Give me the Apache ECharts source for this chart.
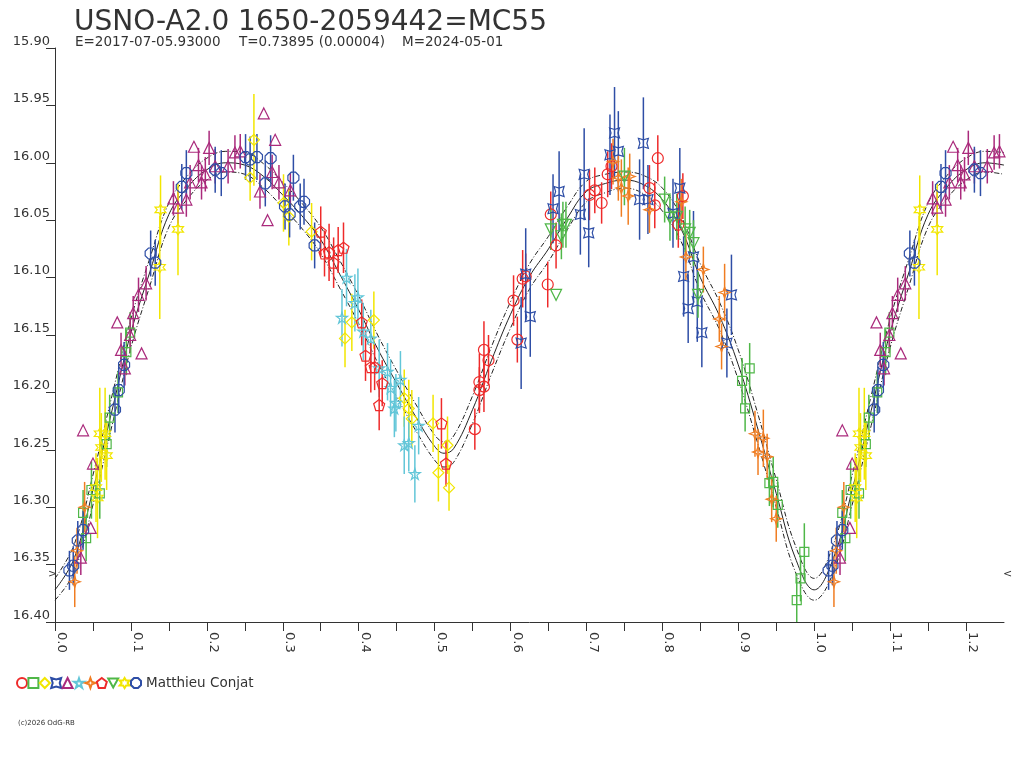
<!DOCTYPE html>
<html>
<head>
<meta charset="utf-8">
<title>USNO-A2.0 1650-2059442=MC55</title>
<script src="https://cdn.jsdelivr.net/npm/echarts@6/dist/echarts.min.js"></script>
<style>
html,body{margin:0;padding:0;background:#fff;}
#main{width:1024px;height:768px;}
</style>
</head>
<body>
<div id="main"></div>
<script>
// observations : [phase, magnitude, error]  (error 0 = no bar)
var redCircle = [
	[0.553,16.232,0.018],[0.559,16.191,0.025],[0.565,16.195,0.022],[0.559,16.198,0.020],[0.565,16.163,0.025],
	[0.571,16.172,0.022],[0.609,16.154,0.020],[0.604,16.120,0.022],[0.616,16.101,0.025],[0.620,16.099,0.020],
	[0.649,16.106,0.020],[0.660,16.072,0.020],[0.653,16.045,0.020],[0.704,16.028,0.022],[0.711,16.024,0.020],
	[0.720,16.035,0.018],[0.728,16.010,0.020],[0.733,16.003,0.020],[0.783,16.022,0.020],[0.790,16.037,0.020],
	[0.794,15.996,0.020],[0.821,16.054,0.020],[0.827,16.029,0.020]
];
var greenSquare = [
	[0.037,16.305,0.020],[0.041,16.327,0.020],[0.048,16.285,0.025],[0.059,16.288,0.022],[0.068,16.245,0.020],
	[0.072,16.222,0.020],[0.083,16.200,0.018],[0.094,16.165,0.020],[0.099,16.148,0.018],[0.905,16.190,0.020],
	[0.909,16.214,0.020],[0.915,16.179,0.022],[0.941,16.279,0.020],[0.946,16.278,0.022],[0.952,16.298,0.020],
	[0.977,16.381,0.020],[0.982,16.362,0.020],[0.987,16.339,0.025]
];
var yellowDiamond = [
	[0.257,16.013,0.020],[0.262,15.980,0.040],[0.301,16.035,0.025],[0.308,16.047,0.025],[0.338,16.060,0.025],
	[0.382,16.153,0.025],[0.391,16.139,0.025],[0.420,16.137,0.025],[0.460,16.205,0.025],[0.466,16.214,0.025],
	[0.470,16.223,0.025],[0.498,16.227,0.025],[0.505,16.270,0.025],[0.517,16.246,0.025],[0.519,16.283,0.020]
];
var blueCross = [
	[0.614,16.157,0.040],[0.626,16.134,0.035],[0.620,16.097,0.040],[0.656,16.040,0.030],[0.664,16.025,0.035],
	[0.692,16.045,0.035],[0.703,16.061,0.030],[0.697,16.010,0.040],[0.731,15.993,0.035],[0.737,15.974,0.040],
	[0.742,15.990,0.035],[0.770,16.032,0.035],[0.775,15.983,0.040],[0.781,16.032,0.030],[0.814,16.044,0.030],
	[0.823,16.022,0.035],[0.828,16.099,0.035],[0.841,16.082,0.040],[0.834,16.127,0.030],[0.846,16.121,0.035],
	[0.852,16.148,0.030],[0.891,16.115,0.035],[0.885,16.157,0.030]
];
var magentaTriangle = [
	[0.034,16.344,0.015],[0.047,16.318,0],[0.050,16.262,0],[0.037,16.233,0],[0.087,16.163,0.015],
	[0.092,16.179,0.015],[0.099,16.150,0.015],[0.114,16.166,0],[0.082,16.139,0],[0.103,16.131,0.015],
	[0.110,16.115,0.015],[0.120,16.105,0.015],[0.156,16.031,0.015],[0.162,16.039,0.015],[0.173,16.032,0.015],
	[0.178,16.017,0.015],[0.183,15.986,0],[0.189,16.002,0.015],[0.193,16.017,0.015],[0.198,16.010,0.015],
	[0.203,15.987,0.015],[0.211,16.003,0.015],[0.228,16.003,0.015],[0.237,15.991,0.015],[0.244,15.990,0.015],
	[0.270,16.025,0.015],[0.275,15.957,0],[0.280,16.050,0],[0.286,16.008,0.015],[0.290,15.980,0],
	[0.295,16.017,0.015],[0.310,16.024,0.015]
];
var cyanStar = [
	[0.378,16.135,0.025],[0.384,16.100,0.025],[0.395,16.122,0.025],[0.399,16.117,0.025],[0.406,16.147,0.025],
	[0.416,16.153,0.025],[0.427,16.179,0.025],[0.438,16.182,0.025],[0.442,16.196,0.025],[0.455,16.189,0.025],
	[0.449,16.209,0.025],[0.447,16.214,0.025],[0.479,16.229,0.025],[0.460,16.246,0.025],[0.466,16.244,0.025],
	[0.474,16.271,0.025]
];
var orangeStar = [
	[0.026,16.365,0.022],[0.029,16.338,0.020],[0.039,16.300,0.022],[0.735,15.999,0.020],[0.742,16.013,0.020],
	[0.746,16.022,0.025],[0.755,16.029,0.025],[0.757,16.012,0.020],[0.783,16.041,0.020],[0.825,16.034,0.020],
	[0.831,16.082,0.020],[0.854,16.093,0.020],[0.875,16.136,0.020],[0.882,16.113,0.025],[0.878,16.160,0.020],
	[0.922,16.236,0.020],[0.933,16.240,0.025],[0.926,16.252,0.020],[0.938,16.256,0.020],[0.944,16.293,0.020],
	[0.950,16.310,0.020]
];
var redPentagon = [
	[0.350,16.060,0.022],[0.355,16.079,0.020],[0.361,16.078,0.025],[0.367,16.087,0.022],[0.373,16.076,0.020],
	[0.380,16.074,0.022],[0.404,16.139,0.020],[0.409,16.168,0.022],[0.416,16.178,0.022],[0.421,16.178,0.020],
	[0.431,16.192,0.020],[0.427,16.211,0.022],[0.509,16.227,0.022],[0.515,16.262,0.020]
];
var greenDown = [
	[0.653,16.058,0.018],[0.660,16.115,0],[0.669,16.054,0.020],[0.673,16.054,0.020],[0.667,16.064,0.020],
	[0.750,16.012,0.025],[0.803,16.032,0.020],[0.810,16.048,0.020],[0.819,16.047,0.020],[0.830,16.058,0.020],
	[0.836,16.061,0.020],[0.841,16.070,0.020],[0.847,16.115,0.020]
];
var yellowStar = [
	[0.054,16.283,0.030],[0.056,16.292,0.035],[0.059,16.236,0.040],[0.066,16.236,0.040],[0.061,16.248,0.030],
	[0.068,16.255,0.030],[0.138,16.091,0.045],[0.139,16.041,0.030],[0.162,16.058,0.040]
];
var blueHexagon = [
	[0.019,16.355,0.017],[0.024,16.351,0.017],[0.030,16.329,0.017],[0.037,16.320,0.017],[0.079,16.215,0.020],
	[0.084,16.198,0.020],[0.091,16.176,0.020],[0.126,16.079,0.020],[0.132,16.087,0.020],[0.167,16.021,0.020],
	[0.173,16.009,0.020],[0.211,16.006,0.020],[0.219,16.009,0.020],[0.251,15.995,0.020],[0.257,15.997,0.020],
	[0.266,15.995,0.020],[0.277,16.018,0.020],[0.284,15.996,0.020],[0.303,16.038,0.020],[0.314,16.013,0.020],
	[0.323,16.038,0.020],[0.309,16.045,0.020],[0.328,16.034,0.020],[0.342,16.072,0.020]
];

// fitted light curve and its envelope
var fitPhase = [0,0.025,0.05,0.075,0.1,0.125,0.15,0.175,0.2,0.225,0.25,0.275,0.3,0.325,0.35,0.375,0.4,0.425,0.45,0.475,
	0.5,0.5125,0.525,0.55,0.575,0.6,0.625,0.65,0.675,0.7,0.725,0.75,0.775,0.8,0.825,0.85,0.875,0.9,0.925,0.95,0.975,1.0];
var fitMid = [16.372,16.345,16.285,16.216,16.148,16.095,16.045,16.021,16.006,16.000,16.002,16.012,16.028,16.046,16.067,16.097,16.128,16.162,16.192,16.221,
	16.247,16.253,16.249,16.215,16.172,16.132,16.099,16.075,16.048,16.025,16.018,16.015,16.019,16.032,16.058,16.100,16.133,16.176,16.230,16.288,16.344,16.372];
var fitHigh = [16.362,16.333,16.272,16.203,16.136,16.083,16.035,16.011,15.996,15.990,15.991,16.001,16.017,16.035,16.056,16.085,16.116,16.150,16.181,16.210,
	16.237,16.243,16.238,16.203,16.160,16.121,16.088,16.064,16.038,16.016,16.010,16.008,16.011,16.022,16.047,16.088,16.121,16.163,16.217,16.276,16.333,16.362];
var fitLow = [16.381,16.357,16.298,16.229,16.161,16.107,16.056,16.031,16.015,16.008,16.010,16.022,16.039,16.057,16.079,16.109,16.140,16.174,16.204,16.233,
	16.259,16.265,16.261,16.227,16.184,16.144,16.110,16.086,16.058,16.034,16.026,16.022,16.027,16.042,16.069,16.112,16.145,16.189,16.243,16.300,16.356,16.381];

var observerName = 'Matthieu Conjat';

/*
 * init
 */
init();
function init(){
	var chart = echarts.init(document.getElementById('main'));
	chart.setOption(buildOption());
}

// same observations repeated one cycle later (phase 1.0 - 1.25)
function fold(list){
	var out = list.slice();
	for(var i=0;i<list.length;i++){
		if(list[i][0] > 0 && list[i][0] <= 0.25){
			out.push([list[i][0]+1, list[i][1], list[i][2]]);
		}
	}
	return out;
}

function curve(values){
	var pts = [];
	for(var i=0;i<fitPhase.length;i++){
		pts.push([fitPhase[i], values[i]]);
	}
	return fold(pts);
}

function buildOption(){
	var font = '"DejaVu Sans", Verdana, sans-serif';
	var observers = [
		{key:'o1', data:redCircle,       color:'#ee2a2a', symbol:'circle', size:11},
		{key:'o2', data:greenSquare,     color:'#4fb748', symbol:'rect', size:9},
		{key:'o3', data:yellowDiamond,   color:'#f2e600', symbol:'diamond', size:11},
		{key:'o4', data:blueCross,       color:'#2e4ea6', symbol:'path://M0,0 L5,1.5 L10,0 L8.5,5 L10,10 L5,8.5 L0,10 L1.5,5 Z', size:10},
		{key:'o5', data:magentaTriangle, color:'#aa2a7c', symbol:'triangle', size:11},
		{key:'o6', data:cyanStar,        color:'#62c6d8', symbol:'path://M5,0 L6.2,3.6 L10,3.6 L6.9,5.8 L8.1,9.5 L5,7.2 L1.9,9.5 L3.1,5.8 L0,3.6 L3.8,3.6 Z', size:11},
		{key:'o7', data:orangeStar,      color:'#f07d22', symbol:'path://M5,0 L6.3,3.7 L10,5 L6.3,6.3 L5,10 L3.7,6.3 L0,5 L3.7,3.7 Z', size:11},
		{key:'o8', data:redPentagon,     color:'#ee2a2a', symbol:'path://M5,0 L10,3.8 L8.1,10 L1.9,10 L0,3.8 Z', size:11},
		{key:'o9', data:greenDown,       color:'#4fb748', symbol:'path://M0,0 L10,0 L5,9 Z', size:11},
		{key:'o10', data:yellowStar,     color:'#f2e600', symbol:'path://M5,0 L6.5,2.5 L10,2.5 L8,5 L10,7.5 L6.5,7.5 L5,10 L3.5,7.5 L0,7.5 L2,5 L0,2.5 L3.5,2.5 Z', size:11},
		{key:'o11', data:blueHexagon,    color:'#2e4ea6', symbol:'path://M3,0 L7,0 L10,3 L10,7 L7,10 L3,10 L0,7 L0,3 Z', size:11}
	];
	var series = [];
	var legendNames = [];

	// fit curves
	series.push({
		type:'line', data:curve(fitMid), symbol:'none', smooth:0.4, silent:true, z:1,
		lineStyle:{color:'#222', width:1}
	});
	series.push({
		type:'line', data:curve(fitHigh), symbol:'none', smooth:0.4, silent:true, z:1,
		lineStyle:{color:'#222', width:1, type:[5,2,1,2]}
	});
	series.push({
		type:'line', data:curve(fitLow), symbol:'none', smooth:0.4, silent:true, z:1,
		lineStyle:{color:'#222', width:1, type:[5,2,1,2]}
	});

	for(var i=0;i<observers.length;i++){
		var ob = observers[i];
		var name = (i == observers.length-1) ? observerName : ob.key;
		var data = fold(ob.data);
		legendNames.push(name);
		// error bars
		series.push({
			type:'custom', data:data, silent:true, z:2, clip:true,
			encode:{x:0, y:1},
			renderItem:(function(col){
				return function(params, api){
					var e = api.value(2);
					if(!e){ return null; }
					var p1 = api.coord([api.value(0), api.value(1)-e]);
					var p2 = api.coord([api.value(0), api.value(1)+e]);
					return {
						type:'line',
						shape:{x1:p1[0], y1:p1[1], x2:p2[0], y2:p2[1]},
						style:{stroke:col, lineWidth:1.5}
					};
				};
			})(ob.color)
		});
		series.push({
			name:name, type:'scatter', data:data, symbol:ob.symbol, symbolSize:ob.size, z:3,
			itemStyle:{color:'rgba(255,255,255,0)', borderColor:ob.color, borderWidth:1.2, opacity:1}
		});
	}

	return {
		animation:false,
		backgroundColor:'#fff',
		textStyle:{fontFamily:font},
		title:{
			text:'USNO-A2.0 1650-2059442=MC55',
			left:74, top:9, padding:0,
			textStyle:{fontSize:28, fontWeight:'normal', color:'#333', fontFamily:font}
		},
		grid:{left:55, right:20, top:48, bottom:146, containLabel:false},
		legend:{
			data:legendNames,
			left:11, top:671, orient:'horizontal',
			itemWidth:10, itemHeight:10, itemGap:-0.6,
			selectedMode:false,
			textStyle:{fontSize:13.5, color:'#333', fontFamily:font},
			formatter:function(n){ return n == observerName ? n : ''; }
		},
		xAxis:{
			type:'value', min:0, max:1.25, interval:0.05,
			splitLine:{show:false},
			axisLine:{lineStyle:{color:'#333', width:1}},
			axisTick:{show:true, inside:false, length:9, lineStyle:{color:'#333'}},
			axisLabel:{
				rotate:-90, align:'left', verticalAlign:'bottom', margin:10,
				fontSize:13, color:'#333', fontFamily:font,
				showMaxLabel:false,
				formatter:function(v){
					var k = Math.round(v*20);
					return k%2 === 0 ? (k/20).toFixed(1) : '';
				}
			}
		},
		yAxis:{
			type:'value', inverse:true, min:15.9, max:16.4, interval:0.05,
			splitLine:{show:false},
			axisLine:{show:true, lineStyle:{color:'#333', width:1}},
			axisTick:{show:true, inside:false, length:9, lineStyle:{color:'#333'}},
			axisLabel:{
				verticalAlign:'bottom', margin:5,
				fontSize:13, color:'#333', fontFamily:font,
				formatter:function(v){ return v.toFixed(2); }
			}
		},
		graphic:[
			{type:'text', x:75, y:49, silent:true, style:{text:'E=2017-07-05.93000', fontSize:13.5, fontFamily:font, fill:'#333', verticalAlign:'bottom'}},
			{type:'text', x:239, y:49, silent:true, style:{text:'T=0.73895 (0.00004)', fontSize:13.5, fontFamily:font, fill:'#333', verticalAlign:'bottom'}},
			{type:'text', x:402, y:49, silent:true, style:{text:'M=2024-05-01', fontSize:13.5, fontFamily:font, fill:'#333', verticalAlign:'bottom'}},
			{type:'text', x:48, y:569, silent:true, style:{text:'>', fontSize:11, fontFamily:font, fill:'#333'}},
			{type:'text', x:1003, y:569, silent:true, style:{text:'<', fontSize:11, fontFamily:font, fill:'#333'}},
			{type:'text', x:18, y:720, silent:true, style:{text:'(c)2026 OdG-RB', fontSize:7, fontFamily:font, fill:'#333'}}
		],
		series:series
	};
}
</script>
</body>
</html>
